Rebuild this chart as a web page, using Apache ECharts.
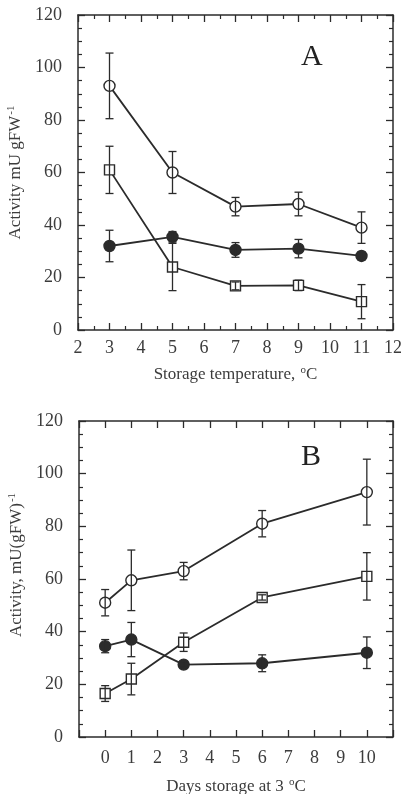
<!DOCTYPE html>
<html>
<head>
<meta charset="utf-8">
<script src="https://cdn.jsdelivr.net/npm/echarts@6/dist/echarts.min.js"></script>
<style>
  html, body { margin: 0; padding: 0; background: #fff; }
  #chart { width: 401px; height: 794px; }
</style>
</head>
<body>
<div id="chart"></div>
<script>
// panel A: activity vs storage temperature
const tempsA = [3, 5, 7, 9, 11];
const openA = [93, 60, 47, 48, 39];
const openAErr = [12.5, 8, 3.5, 4.5, 6];
const filledA = [32, 35.5, 30.5, 31, 28.2];
const filledAErr = [6, 2, 2.8, 3.5, 1.5];
const squareA = [61, 24, 16.8, 17, 10.8];
const squareAErr = [9, 9, 1.5, 2, 6.5];

// panel B: activity vs days of storage at 3 oC
const daysB = [0, 1, 3, 6, 10];
const openB = [51, 59.5, 63, 81, 93];
const openBErr = [5, 11.5, 3.3, 5, 12.5];
const filledB = [34.5, 37, 27.5, 28, 32];
const filledBErr = [2.5, 6.5, 1, 3.2, 6];
const squareB = [16.5, 22, 36, 53, 61];
const squareBErr = [3, 6, 3.5, 1, 9];

const INK = '#2b2b2b';
const TXT = '#3c3c3c';
const FONT = '"Liberation Serif", "DejaVu Serif", serif';

const chart = echarts.init(document.getElementById('chart'));

const pts = (xs, ys) => xs.map((x, i) => [x, ys[i]]);
const errPts = (xs, ys, es) => xs.map((x, i) => [x, ys[i] - es[i], ys[i] + es[i]]);

function lineSeries(idx, data, symbol, filled, size) {
  return {
    type: 'line',
    xAxisIndex: idx * 2,
    yAxisIndex: idx * 2,
    data: data,
    symbol: symbol,
    symbolSize: size,
    showAllSymbol: true,
    lineStyle: { color: INK, width: 1.8 },
    itemStyle: { color: filled ? INK : '#fff', borderColor: INK, borderWidth: 1.4 },
    emphasis: { disabled: true },
    z: 3,
    animation: false
  };
}

function errSeries(idx, data) {
  return {
    type: 'custom',
    xAxisIndex: idx * 2,
    yAxisIndex: idx * 2,
    data: data,
    z: 4,
    animation: false,
    renderItem: function (params, api) {
      const lo = api.coord([api.value(0), api.value(1)]);
      const hi = api.coord([api.value(0), api.value(2)]);
      const w = 4;
      const st = { stroke: INK, lineWidth: 1.3 };
      return {
        type: 'group',
        children: [
          { type: 'line', shape: { x1: lo[0], y1: lo[1], x2: hi[0], y2: hi[1] }, style: st },
          { type: 'line', shape: { x1: lo[0] - w, y1: lo[1], x2: lo[0] + w, y2: lo[1] }, style: st },
          { type: 'line', shape: { x1: hi[0] - w, y1: hi[1], x2: hi[0] + w, y2: hi[1] }, style: st }
        ]
      };
    }
  };
}

const richName = {
  n: { fontFamily: FONT, fontSize: 17, color: TXT, lineHeight: 20 },
  s: { fontFamily: FONT, fontSize: 11, color: TXT, verticalAlign: 'top', lineHeight: 20, padding: [0, 0, 6, 1] }
};

function xAx(grid, pos, min, max, minorSplit, showLabel, nameTxt, fmt, margin, gap) {
  return {
    type: 'value',
    gridIndex: grid,
    position: pos,
    min: min,
    max: max,
    interval: 1,
    name: nameTxt || '',
    nameLocation: 'middle',
    nameGap: gap || 34,
    nameTextStyle: { rich: richName },
    axisLine: { onZero: false, lineStyle: { color: INK, width: 1.5 } },
    axisTick: { inside: true, length: 7, lineStyle: { color: INK, width: 1.3 } },
    minorTick: { show: minorSplit > 0, splitNumber: minorSplit || 2, length: 4, lineStyle: { color: INK, width: 1.2 } },
    axisLabel: {
      show: showLabel, margin: margin || 9, fontFamily: FONT, fontSize: 18, color: TXT,
      formatter: fmt || (v => String(v))
    },
    splitLine: { show: false }
  };
}

function yAx(grid, pos, showLabel, nameTxt, namePad) {
  return {
    type: 'value',
    gridIndex: grid,
    position: pos,
    min: 0,
    max: 120,
    interval: 20,
    name: nameTxt || '',
    nameLocation: 'middle',
    nameGap: 52,
    nameRotate: 90,
    nameTextStyle: { rich: richName, padding: namePad || 0 },
    axisLine: { onZero: false, lineStyle: { color: INK, width: 1.5 } },
    axisTick: { inside: true, length: 7, lineStyle: { color: INK, width: 1.3 } },
    minorTick: { show: true, splitNumber: 4, length: 4, lineStyle: { color: INK, width: 1.2 } },
    axisLabel: { show: showLabel, margin: 16, fontFamily: FONT, fontSize: 18, color: TXT },
    splitLine: { show: false }
  };
}

const option = {
  backgroundColor: '#fff',
  animation: false,
  grid: [
    { left: 78, right: 8, top: 15, height: 315, outerBoundsMode: 'none' },
    { left: 79, right: 8, top: 421, height: 316, outerBoundsMode: 'none' }
  ],
  xAxis: [
    xAx(0, 'bottom', 2, 12, 2, true, '{n|Storage temperature, }{s|o}{n|C}', null, 9, 35),
    xAx(0, 'top', 2, 12, 2, false),
    xAx(1, 'bottom', -1, 11, 0, true, '{n|Days storage at 3 }{s|o}{n|C}',
      v => (v < 0 || v > 10) ? '' : String(v), 12, 40),
    xAx(1, 'top', -1, 11, 0, false)
  ],
  yAxis: [
    yAx(0, 'left', true, '{n|Activity mU gFW}{s|-1}'),
    yAx(0, 'right', false),
    yAx(1, 'left', true, '{n|Activity, mU(gFW)}{s|-1}', [0, 0, 0, 28]),
    yAx(1, 'right', false)
  ],
  graphic: [
    { type: 'text', left: 301, top: 42, style: { text: 'A', fontFamily: FONT, fontSize: 30, fill: '#222' } },
    { type: 'text', left: 301, top: 442, style: { text: 'B', fontFamily: FONT, fontSize: 30, fill: '#222' } }
  ],
  series: [
    lineSeries(0, pts(tempsA, openA), 'circle', false, 11),
    lineSeries(0, pts(tempsA, filledA), 'circle', true, 11),
    lineSeries(0, pts(tempsA, squareA), 'rect', false, 10),
    errSeries(0, errPts(tempsA, openA, openAErr)),
    errSeries(0, errPts(tempsA, filledA, filledAErr)),
    errSeries(0, errPts(tempsA, squareA, squareAErr)),
    lineSeries(1, pts(daysB, openB), 'circle', false, 11),
    lineSeries(1, pts(daysB, filledB), 'circle', true, 11),
    lineSeries(1, pts(daysB, squareB), 'rect', false, 10),
    errSeries(1, errPts(daysB, openB, openBErr)),
    errSeries(1, errPts(daysB, filledB, filledBErr)),
    errSeries(1, errPts(daysB, squareB, squareBErr))
  ]
};

chart.setOption(option);
window.addEventListener('resize', () => chart.resize());
</script>
</body>
</html>
